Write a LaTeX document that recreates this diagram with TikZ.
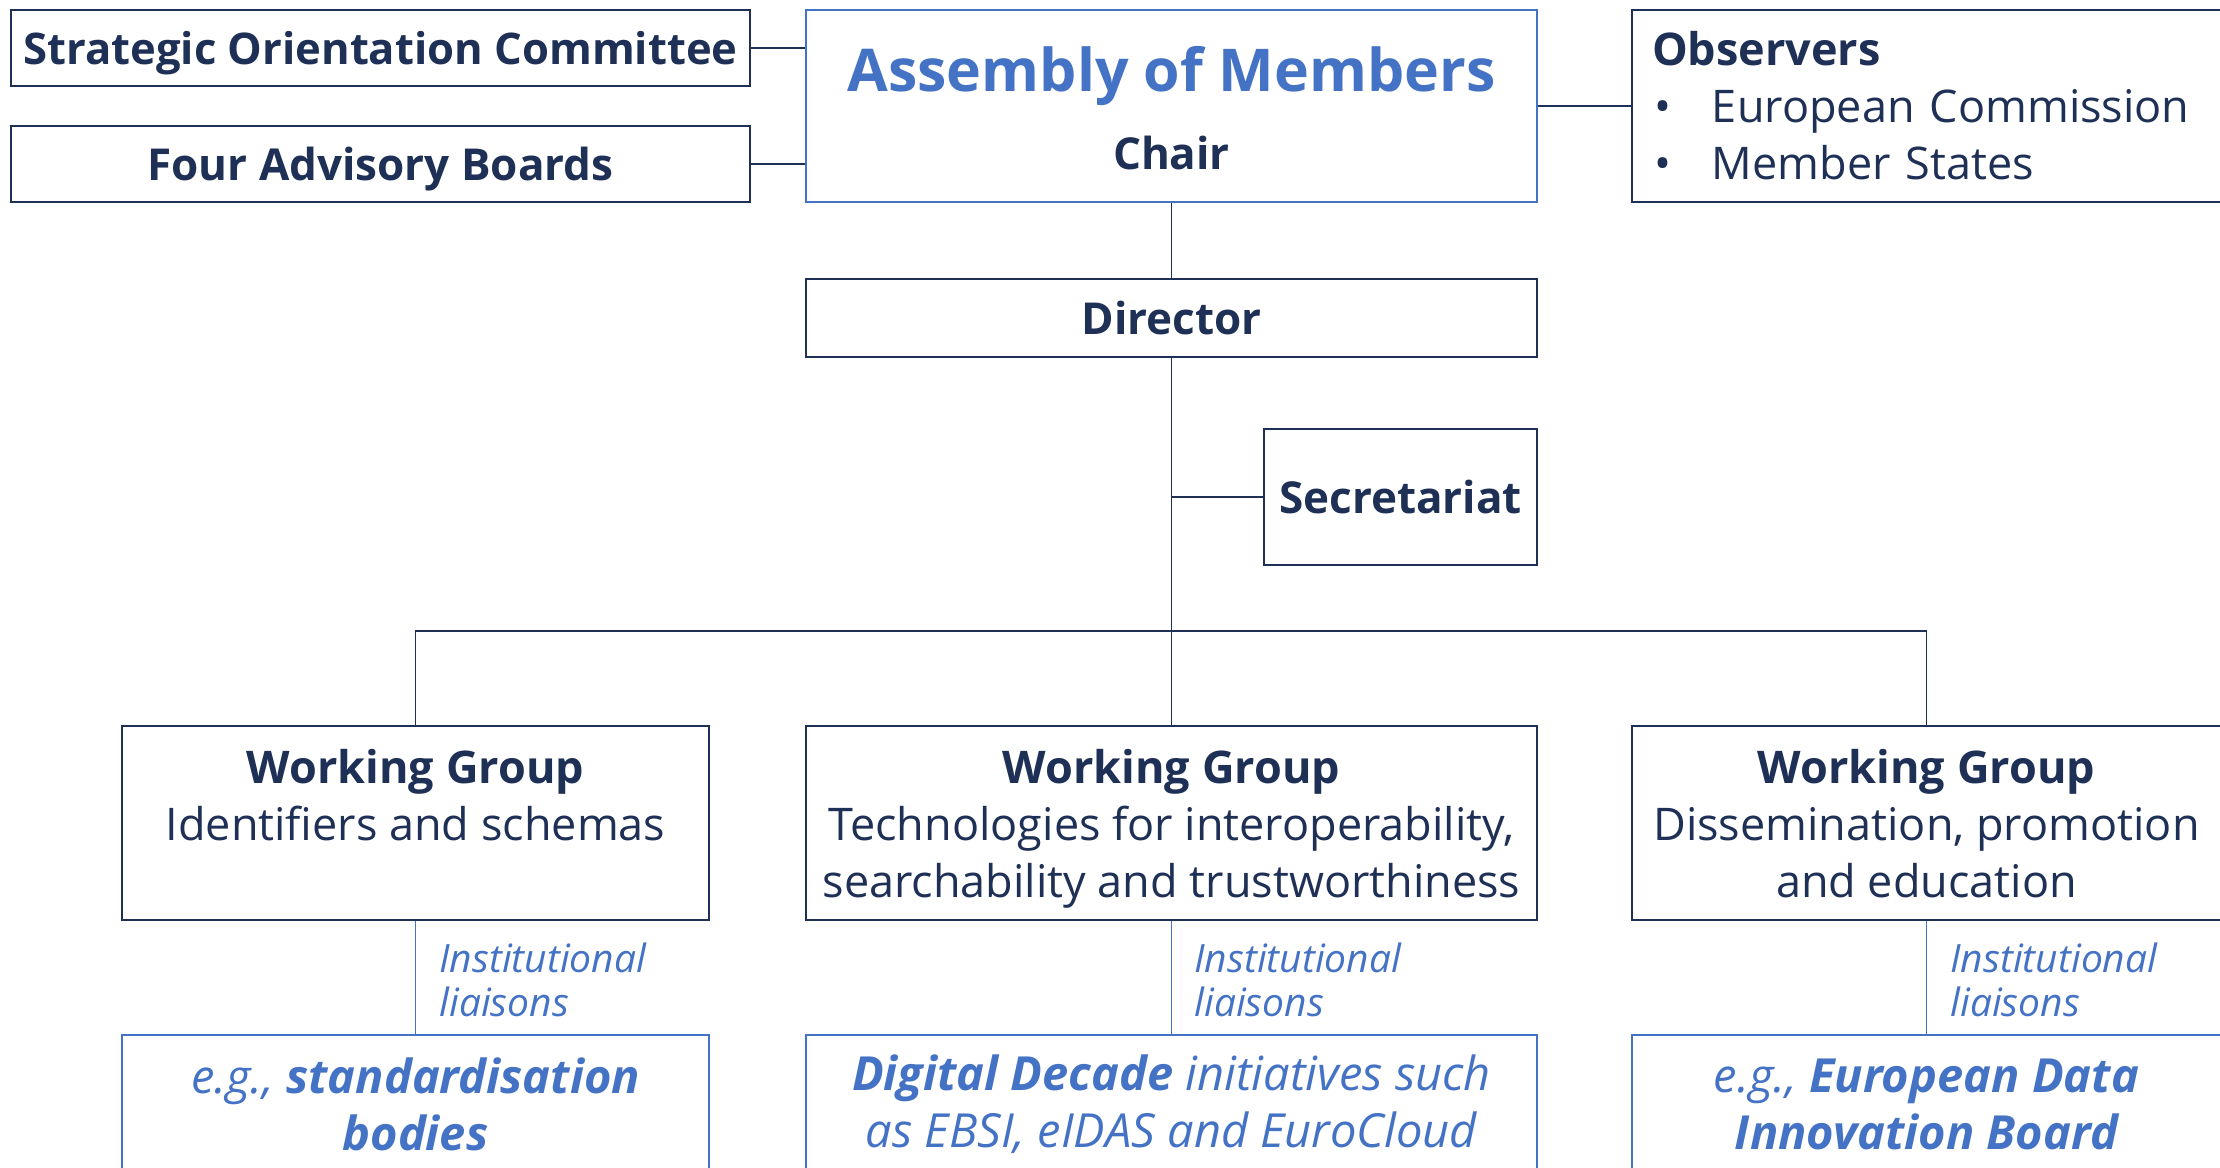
\documentclass[tikz,border=0pt]{standalone}
\usepackage{fontspec}
\setmainfont{Open Sans}
\usetikzlibrary{calc}
\definecolor{navy}{HTML}{1F3056}
\definecolor{ablue}{HTML}{4472C4}
\newcommand\obsitem{\makebox[30pt][l]{\hspace{1pt}\textbullet}}
\tikzset{
  box/.style={draw=navy, line width=1pt, fill=white, text=navy, align=center, inner sep=0pt,
    font=\fontsize{22.5}{28.5}\selectfont},
  titlebox/.style={box, text depth=0pt, font=\fontsize{22}{28.5}\selectfont\bfseries},
  wgbox/.style={box, text depth=0pt, minimum height=97pt},
  bluebox/.style={draw=ablue, line width=1pt, fill=white, text=ablue, align=center, inner sep=0pt,
    font=\fontsize{23.5}{28.5}\selectfont\itshape},
  link/.style={draw=navy, line width=0.75pt},
  bluelink/.style={draw=ablue, line width=0.75pt},
  lbl/.style={text=ablue, align=left, inner sep=0pt, anchor=west,
    font=\fontsize{19.5}{22}\selectfont\itshape},
}
\begin{document}
\begin{tikzpicture}[x=0.5pt,y=-0.5pt]
\useasboundingbox (0,0) rectangle (2220,1167);
\fill[white] (0,0) rectangle (2220,1167);
\clip (0,0) rectangle (2220,1167);

% top row
\node[titlebox, minimum width=369.5pt, minimum height=38pt, font=\fontsize{21.8}{28.5}\selectfont\bfseries] (soc) at (380.5,48) {Strategic Orientation Committee};
\node[titlebox, minimum width=369.5pt, minimum height=38pt] (fab) at (380.5,164) {Four Advisory Boards};
\node[box, draw=ablue, minimum width=365.5pt, minimum height=96pt, font=\fontsize{22}{39}\selectfont\bfseries] (asm) at (1171.5,106)
  {{\fontsize{29.5}{39}\selectfont\color{ablue}\rule{0pt}{25pt}Assembly of Members}\\Chair};
\node[box, align=left, text width=275pt, inner xsep=10pt, minimum height=96pt] (obs) at (1927,106)
  {\textbf{Observers}\\\obsitem European Commission\\\obsitem Member States};

% director and secretariat
\node[titlebox, minimum width=365.5pt, minimum height=39pt] (dir) at (1171.5,318) {Director};
\node[titlebox, minimum width=136.5pt, minimum height=68pt] (sec) at (1400.5,497) {Secretariat};

% working groups
\node[wgbox, minimum width=293.5pt] (wg1) at (415.5,823)
  {\textbf{Working Group}\\Identifiers and schemas\\\mbox{}};
\node[wgbox, minimum width=365.5pt] (wg2) at (1171.5,823)
  {\textbf{Working Group}\\Technologies for interoperability,\\searchability and trustworthiness};
\node[wgbox, minimum width=294.5pt] (wg3) at (1926.5,823)
  {\textbf{Working Group}\\Dissemination, promotion\\and education};

% liaison targets
\node[bluebox, minimum width=293.5pt, minimum height=69.5pt] (b1) at (415.5,1104.5)
  {e.g., \textbf{standardisation}\\\textbf{bodies}};
\node[bluebox, minimum width=365.5pt, minimum height=69.5pt] (b2) at (1171.5,1104.5)
  {\textbf{Digital Decade} initiatives such\\as EBSI, eIDAS and EuroCloud};
\node[bluebox, minimum width=294.5pt, minimum height=69.5pt] (b3) at (1926.5,1104.5)
  {e.g., \textbf{European Data}\\\textbf{Innovation Board}};

% labels
\node[lbl] (l1) at (439,980) {Institutional\\liaisons};
\node[lbl] (l2) at (1194,980) {Institutional\\liaisons};
\node[lbl] (l3) at (1950,980) {Institutional\\liaisons};

% connectors
\draw[link] (soc.east) -- (soc.east -| asm.west);
\draw[link] (fab.east) -- (fab.east -| asm.west);
\draw[link] (asm.east) -- (obs.west);
\draw[link] (asm.south) -- (dir.north);
\draw[link] (dir.south) -- (wg2.north);
\draw[link] (sec.west -| dir.south) -- (sec.west);
\coordinate (bus) at (1171.5,631);
\draw[link] (wg1.north) |- (bus) -| (wg3.north);
\draw[bluelink] (wg1.south) -- (b1.north);
\draw[bluelink] (wg2.south) -- (b2.north);
\draw[bluelink] (wg3.south) -- (b3.north);
\end{tikzpicture}
\end{document}
